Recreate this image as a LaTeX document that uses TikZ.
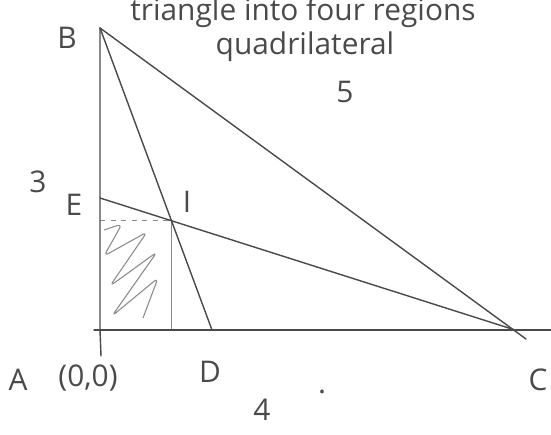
\documentclass[tikz,border=0pt]{standalone}
\usepackage{fontspec}
\setmainfont{Open Sans}
\usetikzlibrary{positioning,calc}
\definecolor{pencil}{HTML}{4A4A4A}
\definecolor{lightpencil}{HTML}{8A8A8A}

\begin{document}
\begin{tikzpicture}[x=0.02cm, y=-0.02cm,
  edge/.style={draw=pencil, line width=0.8pt, line cap=round, line join=round},
  thin/.style={draw=lightpencil, line width=0.5pt},
  lab/.style={text=pencil, font=\fontsize{17}{20}\selectfont, inner sep=1pt}]
\useasboundingbox (0,0) rectangle (551,435);
\clip (0,0) rectangle (551,435);
% corners of the triangle and the two cevians
\coordinate (A) at (100,330);
\coordinate (B) at (100,28);
\coordinate (C) at (515,330);
\coordinate (D) at (212,330);
\coordinate (E) at (100,198);
\coordinate (I) at (intersection of B--D and E--C);
\coordinate (Ibot) at (A -| I);
\coordinate (Ileft) at (A |- I);
\coordinate (axisL) at (94,330);
\coordinate (axisR) at (551,330);
\coordinate (axisD) at (101,356);
\coordinate (hypEnd) at (526,339);
% shaded quadrilateral
\draw[lightpencil, line width=0.6pt, rounded corners=3pt]
  (104,230) -- (122,224) -- (104,256) -- (147,232) -- (110,286) -- (157,252)
  -- (112,316) -- (158,278) -- (143,318);
\draw[thin, dashed] (Ileft) -- (I);
\draw[thin] (I) -- (Ibot);
% triangle
\draw[edge] (B) -- (A) -- (axisD);
\draw[edge] (axisL) -- (axisR);
\draw[edge] (B) -- (hypEnd);
\draw[edge] (B) -- (D);
\draw[edge] (E) -- (C);
% labels
\node[lab, anchor=base west, inner sep=0pt] (title) at (130,21) {triangle into four regions};
\node[lab] (quad) at (305,47) {quadrilateral};
\node[lab] (five) at (345,92) {5};
\node[lab] (three) at (38,182) {3};
\node[lab] (four) at (262,410) {4};
\node[lab] (labB) at (67,38) {B};
\node[lab] (labE) at (74,205) {E};
\node[lab] (labI) at (187,202) {I};
\node[lab] (labA) at (18,380) {A};
\node[lab] (orig) at (88,378) {(0,0)};
\node[lab] (labD) at (210,372) {D};
\node[lab] (labC) at (538,380) {C};
\node[lab] (dot) at (322,392) {.};
\end{tikzpicture}
\end{document}
